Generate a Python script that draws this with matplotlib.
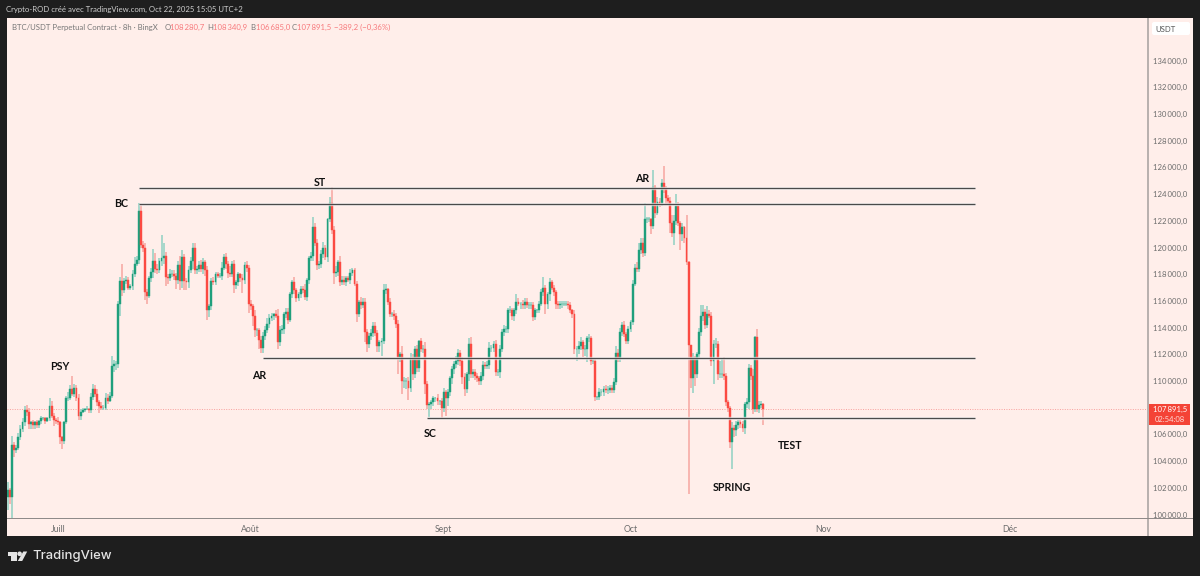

# BTC/USDT 8h candles with Wyckoff range levels, drawn in a TradingView-like frame

import numpy as np
import matplotlib
matplotlib.use("Agg")
import matplotlib.pyplot as plt
from matplotlib.patches import Rectangle, Polygon, Circle, FancyBboxPatch

plt.rcParams['font.family'] = ['Lato', 'DejaVu Sans']

# closing prices in thousands of USDT, 8h candles from late June
closes = [
    101.8, 101.3, 105.2, 104.8, 105.0, 105.8, 106.4, 106.9, 107.8, 107.7,
    106.8, 106.9, 106.7, 106.9, 106.7, 107.0, 107.2, 107.2, 107.0, 107.2,
    108.1, 107.4, 107.1, 107.0, 106.9, 105.8, 105.5, 106.9, 108.7, 108.7,
    109.4, 109.0, 109.5, 108.7, 107.4, 107.7, 107.8, 107.9, 107.9, 107.8,
    108.8, 109.4, 109.0, 108.4, 108.1, 108.0, 108.0, 108.7, 108.5, 108.9,
    111.1, 111.3, 111.3, 115.8, 117.5, 116.8, 117.5, 117.6, 117.0, 117.1,
    118.0, 118.8, 119.1, 122.7, 120.2, 120.0, 116.7, 116.4, 117.7, 118.2,
    119.0, 118.4, 118.3, 119.0, 119.2, 119.4, 117.8, 117.7, 118.0, 118.0,
    117.9, 117.6, 118.7, 117.5, 119.3, 117.5, 117.4, 118.3, 119.0, 120.0,
    118.3, 118.4, 118.7, 118.4, 118.9, 118.3, 115.3, 115.6, 117.5, 117.4,
    118.0, 117.9, 117.9, 118.5, 119.3, 118.8, 118.1, 118.0, 118.8, 117.2,
    117.4, 118.0, 117.7, 117.6, 118.7, 118.5, 115.8, 115.6, 114.9, 113.8,
    113.8, 113.1, 112.5, 113.4, 113.8, 114.3, 114.7, 114.9, 115.0, 114.9,
    112.9, 113.8, 113.9, 115.0, 115.2, 114.6, 116.5, 117.4, 116.8, 116.2,
    116.5, 116.9, 116.8, 116.3, 117.6, 119.2, 119.4, 121.5, 120.3, 118.7,
    118.8, 119.5, 120.0, 119.3, 122.1, 123.3, 121.3, 118.1, 118.2, 118.9,
    117.4, 117.6, 117.4, 117.7, 117.6, 118.1, 118.3, 117.3, 115.0, 115.9,
    115.7, 115.9, 113.7, 112.8, 113.4, 113.6, 114.1, 113.6, 112.6, 112.9,
    113.0, 116.8, 116.9, 115.9, 115.0, 115.0, 114.9, 114.3, 111.8, 112.0,
    110.0, 110.0, 110.0, 109.5, 111.7, 110.5, 112.4, 111.0, 113.0, 112.4,
    112.4, 109.8, 108.2, 108.3, 108.4, 108.7, 108.7, 108.5, 108.5, 108.0,
    109.2, 108.7, 109.2, 110.2, 110.9, 111.3, 111.5, 112.1, 111.5, 110.3,
    109.4, 110.5, 112.8, 110.5, 110.7, 110.4, 110.2, 110.0, 110.4, 111.2,
    111.1, 111.2, 112.5, 112.5, 112.8, 110.7, 110.7, 112.4, 113.7, 113.9,
    113.9, 115.3, 115.3, 114.9, 115.3, 115.9, 115.8, 115.8, 115.7, 115.9,
    115.7, 115.7, 115.7, 114.8, 115.3, 115.3, 115.8, 116.7, 117.0, 115.8,
    116.5, 117.4, 117.0, 116.7, 115.8, 115.7, 115.8, 115.8, 115.8, 115.8,
    115.7, 115.3, 115.0, 112.4, 112.4, 112.6, 112.9, 112.4, 112.4, 113.2,
    113.2, 111.5, 111.5, 108.8, 108.8, 109.2, 109.2, 109.4, 109.3, 109.3,
    109.5, 109.3, 109.9, 112.1, 111.7, 113.7, 114.2, 113.5, 113.0, 113.9,
    114.4, 117.3, 118.5, 118.4, 119.8, 120.3, 119.6, 122.1, 122.1, 122.1,
    121.6, 124.5, 122.6, 123.4, 123.3, 124.8, 124.4, 123.7, 123.5, 121.8,
    121.1, 122.0, 123.1, 121.8, 121.0, 121.5, 120.7, 118.9, 112.7, 110.2,
    111.7, 110.5, 112.0, 113.7, 114.9, 115.2, 114.2, 115.0, 114.9, 111.5,
    112.8, 112.8, 110.5, 110.5, 110.5, 110.4, 108.4, 108.0, 105.4, 106.5,
    106.3, 106.7, 106.9, 106.8, 106.5, 108.3, 108.4, 111.0, 110.4, 107.9,
    113.3, 107.9, 108.2, 108.2807, 107.8915,
]
first_open = 101.3

# wick lengths above and below each body, same units
upper_wicks = [
    .6, .2, .7, .2, .2, .3, .3, .3, .3, .4,
    .3, .1, .2, .1, .2, .1, .2, .1, .1, .1,
    .6, .4, .2, .1, .3, .1, .1, .1, .2, .5,
    .3, 1.0, .3, .2, .3, .2, .2, .1, .2, .1,
    .3, .4, .3, .4, .2, .3, .2, .4, .3, .3,
    .8, .3, .2, .2, .3, 1.3, .2, .3, .2, .2,
    .3, .5, .3, .6, .5, .3, .3, .2, .2, .3,
    .9, .6, .4, .2, 1.7, .9, .3, .2, .4, .3,
    .3, .2, .3, .7, .5, .2, .2, .3, .3, .3,
    .3, .2, .3, .4, .3, .2, .3, .2, .2, .3,
    .2, .2, .2, .4, .2, .3, .2, .5, .2, .3,
    .2, .2, .1, .3, .2, .3, .2, .3, .2, .4,
    .2, .2, .3, .3, .3, .4, .3, .2, .1, .3,
    .5, .3, .3, .2, .3, .3, .2, .2, .4, .2,
    .2, .2, .2, .5, .1, .2, .3, .8, .3, .3,
    .2, .3, .4, .2, .1, .5, 1.2, .3, .4, .2,
    .5, .3, .3, .2, .2, .3, .2, .2, .2, .2,
    .4, .3, .3, .2, .2, .3, .3, .3, .2, .2,
    .2, .5, .4, .1, .3, .2, .3, .2, .3, .2,
    .6, .3, .2, .3, .4, .3, .2, .3, .1, .2,
    .3, .5, .2, .1, .2, .2, .1, .3, .1, .2,
    .3, .1, .2, .2, .2, .2, .4, .3, .2, .3,
    .3, .2, .4, .5, .2, .2, .2, .2, .3, .3,
    .2, .3, .4, .2, .2, .3, .2, .3, .2, .3,
    .2, .2, .3, .2, .2, .6, .3, .1, .3, .3,
    .3, .2, .2, .2, .2, .1, .2, .2, .8, .2,
    .2, .3, .2, .2, .1, .2, .2, .2, .2, .2,
    .2, .2, .1, .3, .2, .4, .4, .2, .3, .2,
    .3, .2, .2, .2, .1, .3, .2, .2, .3, .3,
    .2, .2, .3, .5, .3, .3, .2, .3, .2, .2,
    .2, .3, .3, .4, .5, .4, .4, 1.2, .2, .2,
    .1, 1.3, .2, .4, .3, .3, 1.3, .2, .2, .3,
    .6, .4, .9, .3, .2, .3, .1, 1.7, .1, 0,
    .4, .2, .2, .3, .8, .5, .2, .6, .3, .3,
    .3, .4, .2, 1.0, 1.2, 1.3, .2, .2, .1, .4,
    .2, .3, .2, .2, .2, .1, .3, .3, .2, .5,
    .1, .6, .3, .2, .0602,
]
lower_wicks = [
    1.0, .5, 1.6, .5, .2, .2, .2, .2, .3, .3,
    .4, .4, .3, .3, .2, .2, .2, .1, .2, .1,
    .2, .2, .5, .2, .2, .5, .6, .2, .1, .2,
    .1, .1, .2, .2, .3, .3, .1, .1, .1, .2,
    .2, .2, .2, .3, .5, .2, .2, .2, .2, .1,
    .2, .4, .5, .3, .9, .4, .2, .2, .2, .2,
    .3, .2, .2, .3, .2, .3, .6, .6, .2, .3,
    .5, .3, .3, .2, .4, .4, .7, .4, .2, .2,
    .3, .7, .3, .7, .5, .7, .6, .4, .2, .6,
    .3, .3, .2, .2, .4, .4, .7, .5, .3, .2,
    .2, .2, .2, .3, .2, .4, .4, .2, .2, .6,
    .3, .3, .3, 1.0, .3, .3, .7, .3, .8, .5,
    .4, .7, .4, .4, .3, .2, .3, .2, .3, .2,
    .5, .3, .3, .4, .3, .3, .2, .3, .3, .3,
    .2, .3, .2, .2, .3, .3, .2, .4, .2, .4,
    .3, .3, .3, .2, .4, .2, .3, .8, .3, .3,
    .3, .2, .2, .3, .2, .3, .2, .2, .6, .2,
    .3, .2, .8, .6, .3, .3, .3, .2, .4, .4,
    1.0, .2, .3, .2, .2, .2, .3, .3, 1.3, .4,
    1.0, .5, .6, .9, .3, .4, .3, .3, .3, .2,
    .3, .8, .3, .9, .4, .3, .3, .3, .3, .8,
    .3, 1.3, .6, .3, .4, .4, .3, .3, .4, .5,
    .5, .3, .5, .3, .3, .3, .3, .3, .3, .3,
    .2, .2, .3, .3, .3, .3, .3, .5, .2, .3,
    .3, .3, .2, .3, .4, .3, .2, .4, .3, .3,
    .2, .3, .3, .3, .2, .2, .2, .2, .3, .8,
    .4, .5, .2, .3, .4, .3, .3, .3, .2, .2,
    .3, .2, .3, .4, .9, .4, .3, .6, .5, 1.0,
    .3, .3, .2, .3, .2, .2, .3, .3, .2, .3,
    .2, .2, .2, .2, .3, .3, .3, .2, .2, .2,
    .2, .2, .2, .2, .2, .3, .3, .2, .3, .2,
    .6, .2, .4, .2, .3, .2, .3, .5, .3, .7,
    .3, .9, .3, .2, 1.2, .5, .4, .2, 11.2, .7,
    1.1, .9, .3, .3, .3, .4, .3, .2, .2, .4,
    1.7, .3, .4, .3, .3, .3, .3, .3, .4, 2.0,
    .5, .4, .3, .3, .3, .5, .3, .5, .3, .4,
    .2, .2, .3, .2, 1.2065,
]

# horizontal range levels (thousands) and the candle each one starts from
level_prices = [124.46, 123.26, 111.72, 107.23]
level_starts = [63, 63, 123, 202]
level_end = 466

# Wyckoff labels: candle position, price, text
label_x = [25, 54.5, 121, 150.4, 203.4, 305.5, 349, 376.9]
label_y = [111.1, 123.26, 110.4, 124.9, 106.1, 125.2, 102.0, 105.2]
label_text = ["PSY", "BC", "AR", "ST", "SC", "AR", "SPRING", "TEST"]

# 108 000 sits behind the last-price tag, so the scale skips it
price_ticks = [100, 102, 104, 106, 110, 112, 114, 116, 118, 120, 122, 124, 126, 128, 130, 132, 134]
month_ticks = [24, 117, 210, 300, 393, 483]
month_labels = ["Juill", "Août", "Sept", "Oct", "Nov", "Déc"]

FRAME = "#1e1e1e"
PANEL = "#ffeeea"
GREEN = "#1f9f7c"
RED = "#fb4a42"
GREEN_WICK = "#8fd0c2"
RED_WICK = "#f7a6a0"
GREY = "#6c6c6c"
SALMON = "#f7797c"
THIN = "\u2009"

W, H = 1200, 576
fig = plt.figure(figsize=(12, 5.76), dpi=100, facecolor=FRAME)


def px_box(left, top, right, bottom):
    return [left / W, 1 - bottom / H, (right - left) / W, (bottom - top) / H]


# panel fill lives on its own layer below the candles
back = fig.add_axes([0, 0, 1, 1], zorder=0)
back.set_xlim(0, W)
back.set_ylim(H, 0)
back.axis("off")
back.add_patch(Rectangle((7, 18), 1186, 518, fc=PANEL, ec="none"))

# candles
opens = np.array([first_open] + closes[:-1])
closes_arr = np.array(closes)
tops = np.maximum(opens, closes_arr)
bottoms = np.minimum(opens, closes_arr)
highs = tops + np.array(upper_wicks)
lows = bottoms - np.array(lower_wicks)
idx = np.arange(len(closes))
rising = closes_arr >= opens

ax = fig.add_axes(px_box(7, 18, 1147, 518), zorder=1)
ax.patch.set_alpha(0)
for s in ax.spines.values():
    s.set_visible(False)

wick_colors = [GREEN_WICK if r else RED_WICK for r in rising]
body_colors = [GREEN if r else RED for r in rising]
ax.vlines(idx, lows * 1000, highs * 1000, colors=wick_colors, linewidth=1.1, zorder=3)
ax.bar(idx, (tops - bottoms) * 1000, bottom=bottoms * 1000, width=0.9, color=body_colors,
       edgecolor=body_colors, linewidth=0.3, zorder=4)

# last price marker line
ax.axhline(closes[-1] * 1000, color="#f8a09c", linewidth=0.7, linestyle=(0, (1, 1.5)), zorder=2)

# range levels with the light halo they have on the chart
for price, start in zip(level_prices, level_starts):
    ax.hlines(price * 1000, start, level_end, color="white", linewidth=2.4, alpha=0.7, zorder=4.5)
    ax.hlines(price * 1000, start, level_end, color="#4a4a4a", linewidth=1.0, zorder=5)

for x, y, s in zip(label_x, label_y, label_text):
    ax.text(x, y * 1000, s, fontsize=7.7, weight="bold", color="#111111", ha="center",
            va="center", zorder=6)

# scales: 2.075 px per candle, 13.35 px per 1000 USDT
ax.set_xlim((7 - 8) / 2.075, (1147 - 8) / 2.075)
ax.set_ylim((100 + (514.5 - 518) / 13.35) * 1000, (100 + (514.5 - 18) / 13.35) * 1000)

ax.yaxis.tick_right()
ax.set_yticks([t * 1000 for t in price_ticks])
ax.set_yticklabels([f"{t}{THIN}000,0" for t in price_ticks], fontsize=5.6, color=GREY)
ax.set_xticks(month_ticks)
ax.set_xticklabels(month_labels, fontsize=6.2, color=GREY)
ax.tick_params(axis="y", length=0, pad=4.5)
ax.tick_params(axis="x", length=0, pad=5)

# layer in pixel coordinates for the separators, tags, header and logo
frame = fig.add_axes([0, 0, 1, 1], zorder=2)
frame.patch.set_alpha(0)
frame.set_xlim(0, W)
frame.set_ylim(H, 0)
frame.axis("off")
frame.add_patch(Rectangle((1147, 18), 2, 518, fc="#b9b1af", ec="none"))
frame.add_patch(Rectangle((7, 517.5), 1186, 1.2, fc="#8f8a89", ec="none"))
frame.add_patch(FancyBboxPatch((1152, 22), 38, 13, boxstyle="round,pad=0,rounding_size=2",
                               fc="white", ec="none"))
frame.text(1165.5, 29, "USDT", fontsize=5.6, color="#555555", ha="center", va="center")

# TradingView logo
logo = "#e4e4e4"
frame.add_patch(Polygon([(7.5, 551.5), (16.9, 551.5), (16.9, 561), (11.3, 561),
                         (11.3, 556), (7.5, 556)], fc=logo, ec="none"))
frame.add_patch(Circle((19.6, 553.8), 2.3, fc=logo, ec="none"))
frame.add_patch(Polygon([(23.3, 551.5), (27.2, 551.5), (22.2, 561), (17.8, 561)], fc=logo, ec="none"))
frame.text(32, 556, "TradingView", fontsize=9.4, color=logo, family="Inter", weight="medium",
           ha="left", va="center")

# header lines
frame.text(6, 9, "Crypto-ROD créé avec TradingView.com, Oct 22, 2025 15:05 UTC+2",
           fontsize=5.55, color="#cfcfcf", ha="left", va="center")
frame.text(12, 27.5, "BTC/USDT Perpetual Contract · 8h · BingX", fontsize=5.6, color="#777777",
           ha="left", va="center")
for x, s in [(165, "O"), (207, "H"), (250.7, "B"), (292, "C")]:
    frame.text(x, 27.5, s, fontsize=5.6, color="#777777", ha="left", va="center")
for x, s in [(170, f"108{THIN}280,7"), (212.7, f"108{THIN}340,9"), (255.5, f"106{THIN}685,0"),
             (297, f"107{THIN}891,5"), (334, "−389,2 (−0,36%)")]:
    frame.text(x, 27.5, s, fontsize=5.6, color=SALMON, ha="left", va="center")

# countdown tag on the price scale
frame.add_patch(Rectangle((1148.5, 404), 41.5, 20.5, fc="#f44336", ec="none"))
frame.text(1170, 409.6, f"107{THIN}891,5", fontsize=5.6, color="white", ha="center", va="center")
frame.text(1170, 419, "02:54:08", fontsize=5.5, color="#ffd9d4", ha="center", va="center")

fig.savefig("out.png", dpi=100, facecolor=FRAME)
